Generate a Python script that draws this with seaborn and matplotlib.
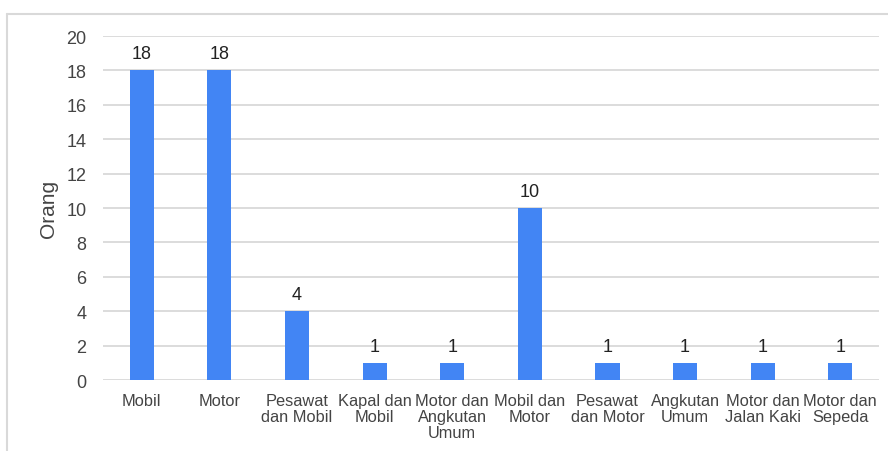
import matplotlib
matplotlib.use("Agg")
import matplotlib.pyplot as plt
import seaborn as sns
import pandas as pd
from matplotlib.lines import Line2D

categories = [
    "Mobil", "Motor", "Pesawat\ndan Mobil", "Kapal dan\nMobil",
    "Motor dan\nAngkutan\nUmum", "Mobil dan\nMotor", "Pesawat\ndan Motor",
    "Angkutan\nUmum", "Motor dan\nJalan Kaki", "Motor dan\nSepeda",
]
counts = [18, 18, 4, 1, 1, 10, 1, 1, 1, 1]
y_ticks = [0, 2, 4, 6, 8, 10, 12, 14, 16, 18, 20]

df = pd.DataFrame({"kategori": categories, "jumlah": counts})

sns.set_theme(style="white")
plt.rcParams["font.family"] = ["Liberation Sans", "DejaVu Sans"]

text_color = "#444444"
grid_color = "#d9d9d9"
bar_color = "#4285F4"

fig = plt.figure(figsize=(8.88, 4.52), dpi=100)
ax = fig.add_axes([0.116, 0.157, 0.874, 0.761])

sns.barplot(data=df, x="kategori", y="jumlah", color=bar_color,
            width=0.31, saturation=1, linewidth=0, ax=ax, zorder=3)

ax.set_ylim(0, 20)
ax.set_yticks(y_ticks)
ax.set_xlim(-0.5, len(categories) - 0.5)
ax.grid(axis="y", color=grid_color, linewidth=1.3, zorder=0)
ax.grid(axis="x", visible=False)
for s in ax.spines.values():
    s.set_visible(False)

ax.tick_params(axis="y", length=0, pad=12, labelsize=13, labelcolor=text_color)
ax.tick_params(axis="x", length=0, pad=9, labelsize=11.8, labelcolor=text_color)
for lbl in ax.get_xticklabels():
    lbl.set_linespacing(1.12)
    lbl.set_verticalalignment("top")

ax.set_xlabel("")
ax.set_ylabel("Orang", fontsize=15, color=text_color)
ax.yaxis.set_label_coords(-0.058, 0.5)

for container in ax.containers:
    ax.bar_label(container, labels=[str(v) for v in counts], padding=6,
                 fontsize=13, color="#222222")

# light frame around the chart
fig.add_artist(Line2D([7 / 888, 1], [1 - 15 / 452, 1 - 15 / 452],
                      transform=fig.transFigure, color=grid_color, linewidth=1.5))
fig.add_artist(Line2D([7 / 888, 7 / 888], [0, 1 - 15 / 452],
                      transform=fig.transFigure, color=grid_color, linewidth=1.5))

fig.savefig("out.png", dpi=100, facecolor="white")
